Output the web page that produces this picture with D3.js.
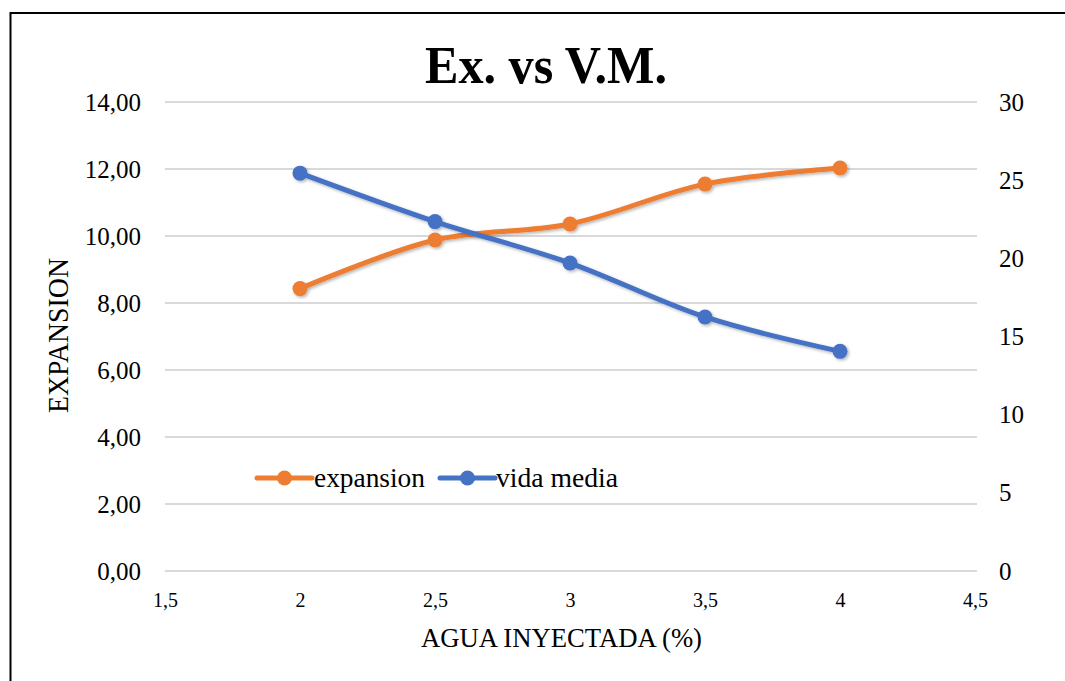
<!DOCTYPE html>
<html><head><meta charset="utf-8">
<script src="https://cdn.jsdelivr.net/npm/d3@7"></script>
<style>body{margin:0;background:#fff}svg{display:block}svg text{font-family:"Liberation Serif","Times New Roman",serif !important;fill:#000}</style>
</head><body><svg id="c" width="1065" height="681"></svg>
<script>
const xValues = [2, 2.5, 3, 3.5, 4];
const expansion = [8.43, 9.88, 10.36, 11.55, 12.03];
const vidaMedia = [25.45, 22.35, 19.7, 16.25, 14.05];
const xTicks = [1.5, 2, 2.5, 3, 3.5, 4, 4.5];
const leftTicks = [0, 2, 4, 6, 8, 10, 12, 14];
const rightTicks = [0, 5, 10, 15, 20, 25, 30];
const seriesNames = ["expansion", "vida media"];
const colors = ["#ED7D31", "#4472C4"];

const FONT = "'Liberation Serif', 'Times New Roman', serif";
const svg = d3.select("#c");
const comma = v => String(v).replace(".", ",");
const x = d3.scaleLinear().domain([1.5, 4.5]).range([165, 975]);
const yL = d3.scaleLinear().domain([0, 14]).range([571, 102]);
const yR = d3.scaleLinear().domain([0, 30]).range([571, 102]);

const defs = svg.append("defs");
const f = defs.append("filter").attr("id","sh").attr("x","-20%").attr("y","-20%").attr("width","140%").attr("height","140%");
f.append("feDropShadow").attr("dx",1.5).attr("dy",1.5).attr("stdDeviation",1.5).attr("flood-color","#000").attr("flood-opacity",0.3);

// frame
svg.append("rect").attr("x",10.5).attr("y",13).attr("width",1070).attr("height",680)
  .attr("fill","none").attr("stroke","#000").attr("stroke-width",2);

// gridlines
svg.append("g").selectAll("line").data(leftTicks).join("line")
  .attr("x1",x(1.5)).attr("x2",x(4.5)+2).attr("y1",d=>yL(d)).attr("y2",d=>yL(d))
  .attr("stroke","#D9D9D9").attr("stroke-width",2);

// left axis
const gl = svg.append("g").attr("transform",`translate(${x(1.5)},0)`)
  .call(d3.axisLeft(yL).tickValues(leftTicks).tickSize(0).tickPadding(24).tickFormat(d=>d3.format(".2f")(d).replace(".",",")));
gl.select(".domain").remove();
gl.attr("font-family",FONT).attr("font-size",25);
gl.selectAll("text").attr("dy","0.32em");

// right axis
const gr = svg.append("g").attr("transform",`translate(${x(4.5)},0)`)
  .call(d3.axisRight(yR).tickValues(rightTicks).tickSize(0).tickPadding(24));
gr.select(".domain").remove();
gr.attr("font-family",FONT).attr("font-size",25);
gr.selectAll("text").attr("dy","0.32em");

// bottom axis
const gb = svg.append("g").attr("transform",`translate(0,${yL(0)})`)
  .call(d3.axisBottom(x).tickValues(xTicks).tickSize(0).tickPadding(22).tickFormat(comma));
gb.select(".domain").remove();
gb.attr("font-family",FONT).attr("font-size",20);

// titles
svg.append("text").attr("x",546).attr("y",83).attr("text-anchor","middle")
  .attr("font-size",52).attr("font-weight","bold")
  .attr("textLength",242).attr("lengthAdjust","spacingAndGlyphs").text("Ex. vs V.M.");
svg.append("text").attr("x",561.5).attr("y",647).attr("text-anchor","middle")
  .attr("font-size",27).attr("textLength",281).attr("lengthAdjust","spacingAndGlyphs").text("AGUA INYECTADA (%)");
svg.append("text").attr("transform","translate(68,335.5) rotate(-90)").attr("text-anchor","middle")
  .attr("font-size",29).attr("textLength",155).attr("lengthAdjust","spacingAndGlyphs").text("EXPANSION");

// series
const line = d3.line().curve(d3.curveCatmullRom.alpha(0.5));
const series = [
  {name: seriesNames[0], vals: expansion, y: yL, color: colors[0]},
  {name: seriesNames[1], vals: vidaMedia, y: yR, color: colors[1]}
];
series.forEach(s => {
  const g = svg.append("g").attr("filter","url(#sh)");
  const pts = xValues.map((xv,i)=>[x(xv), s.y(s.vals[i])]);
  g.append("path").attr("d", line(pts)).attr("fill","none").attr("stroke",s.color)
    .attr("stroke-width",5).attr("stroke-linejoin","round");
  g.selectAll("circle").data(pts).join("circle").attr("cx",d=>d[0]).attr("cy",d=>d[1])
    .attr("r",7.5).attr("fill",s.color);
});

// legend
const leg = [{x0:257, x1:312, tx:314, w:111}, {x0:440, x1:495, tx:496, w:122}];
series.forEach((s,i)=>{
  const g = svg.append("g");
  g.append("line").attr("x1",leg[i].x0).attr("x2",leg[i].x1).attr("y1",478).attr("y2",478)
    .attr("stroke",s.color).attr("stroke-width",5).attr("stroke-linecap","round");
  g.append("circle").attr("cx",(leg[i].x0+leg[i].x1)/2).attr("cy",478).attr("r",7.5).attr("fill",s.color);
  g.append("text").attr("x",leg[i].tx).attr("y",478).attr("dy","0.32em").attr("font-size",27)
    .attr("textLength",leg[i].w).attr("lengthAdjust","spacingAndGlyphs").text(s.name);
});
</script></body></html>
